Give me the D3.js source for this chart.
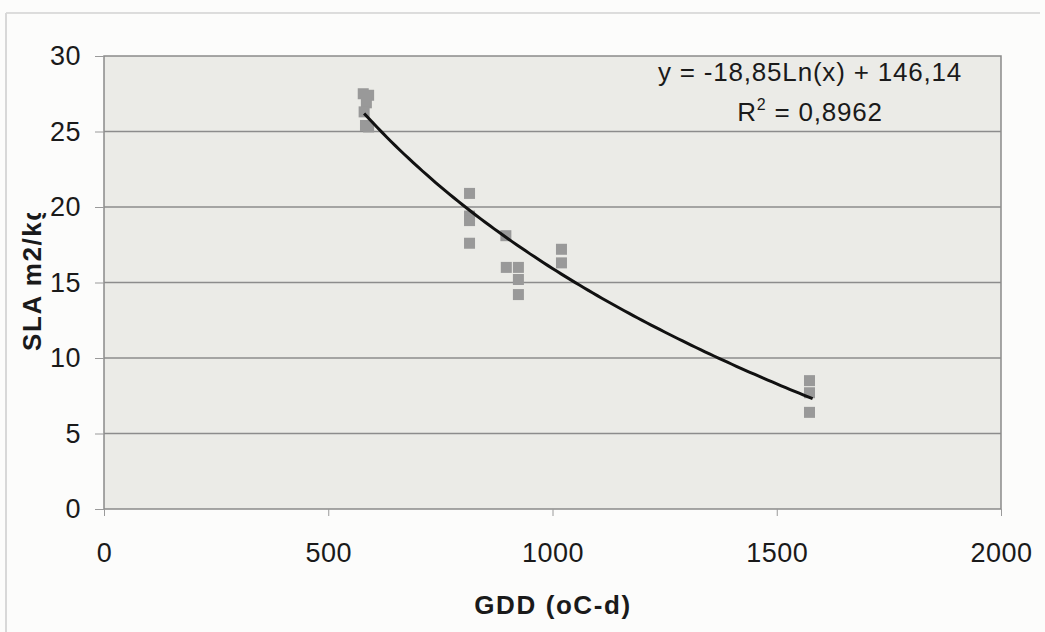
<!DOCTYPE html>
<html>
  <head>
    <title>SLA vs GDD</title>
    <style>
      body { margin: 0; background: #fcfcfb; }
      text { font-family: "Liberation Sans", Arial, sans-serif; fill: #1a1a1a; }
    </style>
  </head>
  <body>
    <script src="https://d3js.org/d3.v7.min.js"></script>
    <script>
      var w = 1045, h = 632;

      // measured points (GDD, SLA)
      var gdd = [578, 590, 585, 580, 583, 590,
                 815, 815, 815, 815,
                 896, 897, 924, 924, 924,
                 1020, 1020,
                 1573, 1573, 1573];
      var sla = [27.5, 27.4, 26.9, 26.3, 25.4, 25.3,
                 20.9, 19.4, 19.1, 17.6,
                 18.1, 16.0, 16.0, 15.2, 14.2,
                 17.2, 16.3,
                 8.5, 7.7, 6.4];
      var xTicks = [0, 500, 1000, 1500, 2000];
      var yTicks = [0, 5, 10, 15, 20, 25, 30];
      var fitA = -18.85, fitB = 146.14;
      var fitRange = [580, 1580];
      var eqText = "y = -18,85Ln(x) + 146,14";
      var r2Text = "0,8962";

      var pLeft = 104, pRight = 1001, pTop = 56, pBottom = 509;

      var svg = d3.select('body').append('svg').attr('width', w).attr('height', h);

      // outer frame lines (scan)
      svg.append('line').attr('x1', 6).attr('x2', 1040).attr('y1', 13).attr('y2', 13)
        .style('stroke', '#bdbdbd').style('stroke-width', 1);
      svg.append('line').attr('x1', 6).attr('x2', 6).attr('y1', 13).attr('y2', 632)
        .style('stroke', '#d8d8d8').style('stroke-width', 2);

      var x = d3.scaleLinear().domain([0, 2000]).range([pLeft, pRight]);
      var y = d3.scaleLinear().domain([0, 30]).range([pBottom, pTop]);

      svg.append('rect').attr('x', pLeft).attr('y', pTop)
        .attr('width', pRight - pLeft).attr('height', pBottom - pTop)
        .style('fill', '#ebebe7').style('stroke', '#8a8a8a').style('stroke-width', 1.5);

      svg.append('g').selectAll('line').data(yTicks.slice(1, -1)).enter().append('line')
        .attr('x1', pLeft).attr('x2', pRight)
        .attr('y1', function(d){ return y(d); }).attr('y2', function(d){ return y(d); })
        .style('stroke', '#8c8c8c').style('stroke-width', 1.5);

      var yAxis = svg.append('g').attr('transform', 'translate(' + pLeft + ',0)')
        .call(d3.axisLeft(y).tickValues(yTicks).tickFormat(d3.format('d')).tickSize(9).tickPadding(14));
      var xAxis = svg.append('g').attr('transform', 'translate(0,' + pBottom + ')')
        .call(d3.axisBottom(x).tickValues(xTicks).tickFormat(d3.format('d')).tickSize(7).tickPadding(27));
      [yAxis, xAxis].forEach(function(a){
        a.attr('font-size', null).attr('font-family', null);
        a.select('.domain').remove();
        a.selectAll('line').style('stroke', '#9a9a9a');
        a.selectAll('text').style('font-size', '27px').style('letter-spacing', '0.5px')
          .style('fill', '#1a1a1a');
      });

      // points
      var pts = gdd.map(function(g, i){ return [g, sla[i]]; });
      svg.append('g').selectAll('rect').data(pts).enter().append('rect')
        .attr('x', function(d){ return x(d[0]) - 5.5; })
        .attr('y', function(d){ return y(d[1]) - 5.5; })
        .attr('width', 11).attr('height', 11)
        .style('fill', '#999999');

      // log trend line
      var fx = d3.range(fitRange[0], fitRange[1] + 1, 10);
      var line = d3.line()
        .x(function(d){ return x(d); })
        .y(function(d){ return y(fitA * Math.log(d) + fitB); });
      svg.append('path').datum(fx).attr('d', line)
        .style('fill', 'none').style('stroke', '#111').style('stroke-width', 3);

      // equation
      svg.append('text').attr('x', 810).attr('y', 81).attr('text-anchor', 'middle')
        .style('font-size', '26px').style('letter-spacing', '0.8px').text(eqText);
      var r2 = svg.append('text').attr('x', 810).attr('y', 121).attr('text-anchor', 'middle')
        .style('font-size', '26px').style('letter-spacing', '0.8px');
      r2.append('tspan').text('R');
      r2.append('tspan').attr('dy', -11).style('font-size', '16px').text('2');
      r2.append('tspan').attr('dy', 11).text(' = ' + r2Text);

      // axis titles
      svg.append('text').attr('x', 553).attr('y', 614).attr('text-anchor', 'middle')
        .style('font-size', '26px').style('font-weight', 'bold').style('letter-spacing', '1.6px')
        .text('GDD (oC-d)');

      // y title is cut off at the top in the original scan
      svg.append('clipPath').attr('id', 'yclip').append('rect')
        .attr('x', 0).attr('y', 213).attr('width', 60).attr('height', 300);
      svg.append('g').attr('clip-path', 'url(#yclip)')
        .append('text').attr('transform', 'translate(41,351) rotate(-90)')
        .attr('text-anchor', 'start')
        .style('font-size', '26px').style('font-weight', 'bold').style('letter-spacing', '1.6px')
        .text('SLA m2/kg');
    </script>
  </body>
</html>
